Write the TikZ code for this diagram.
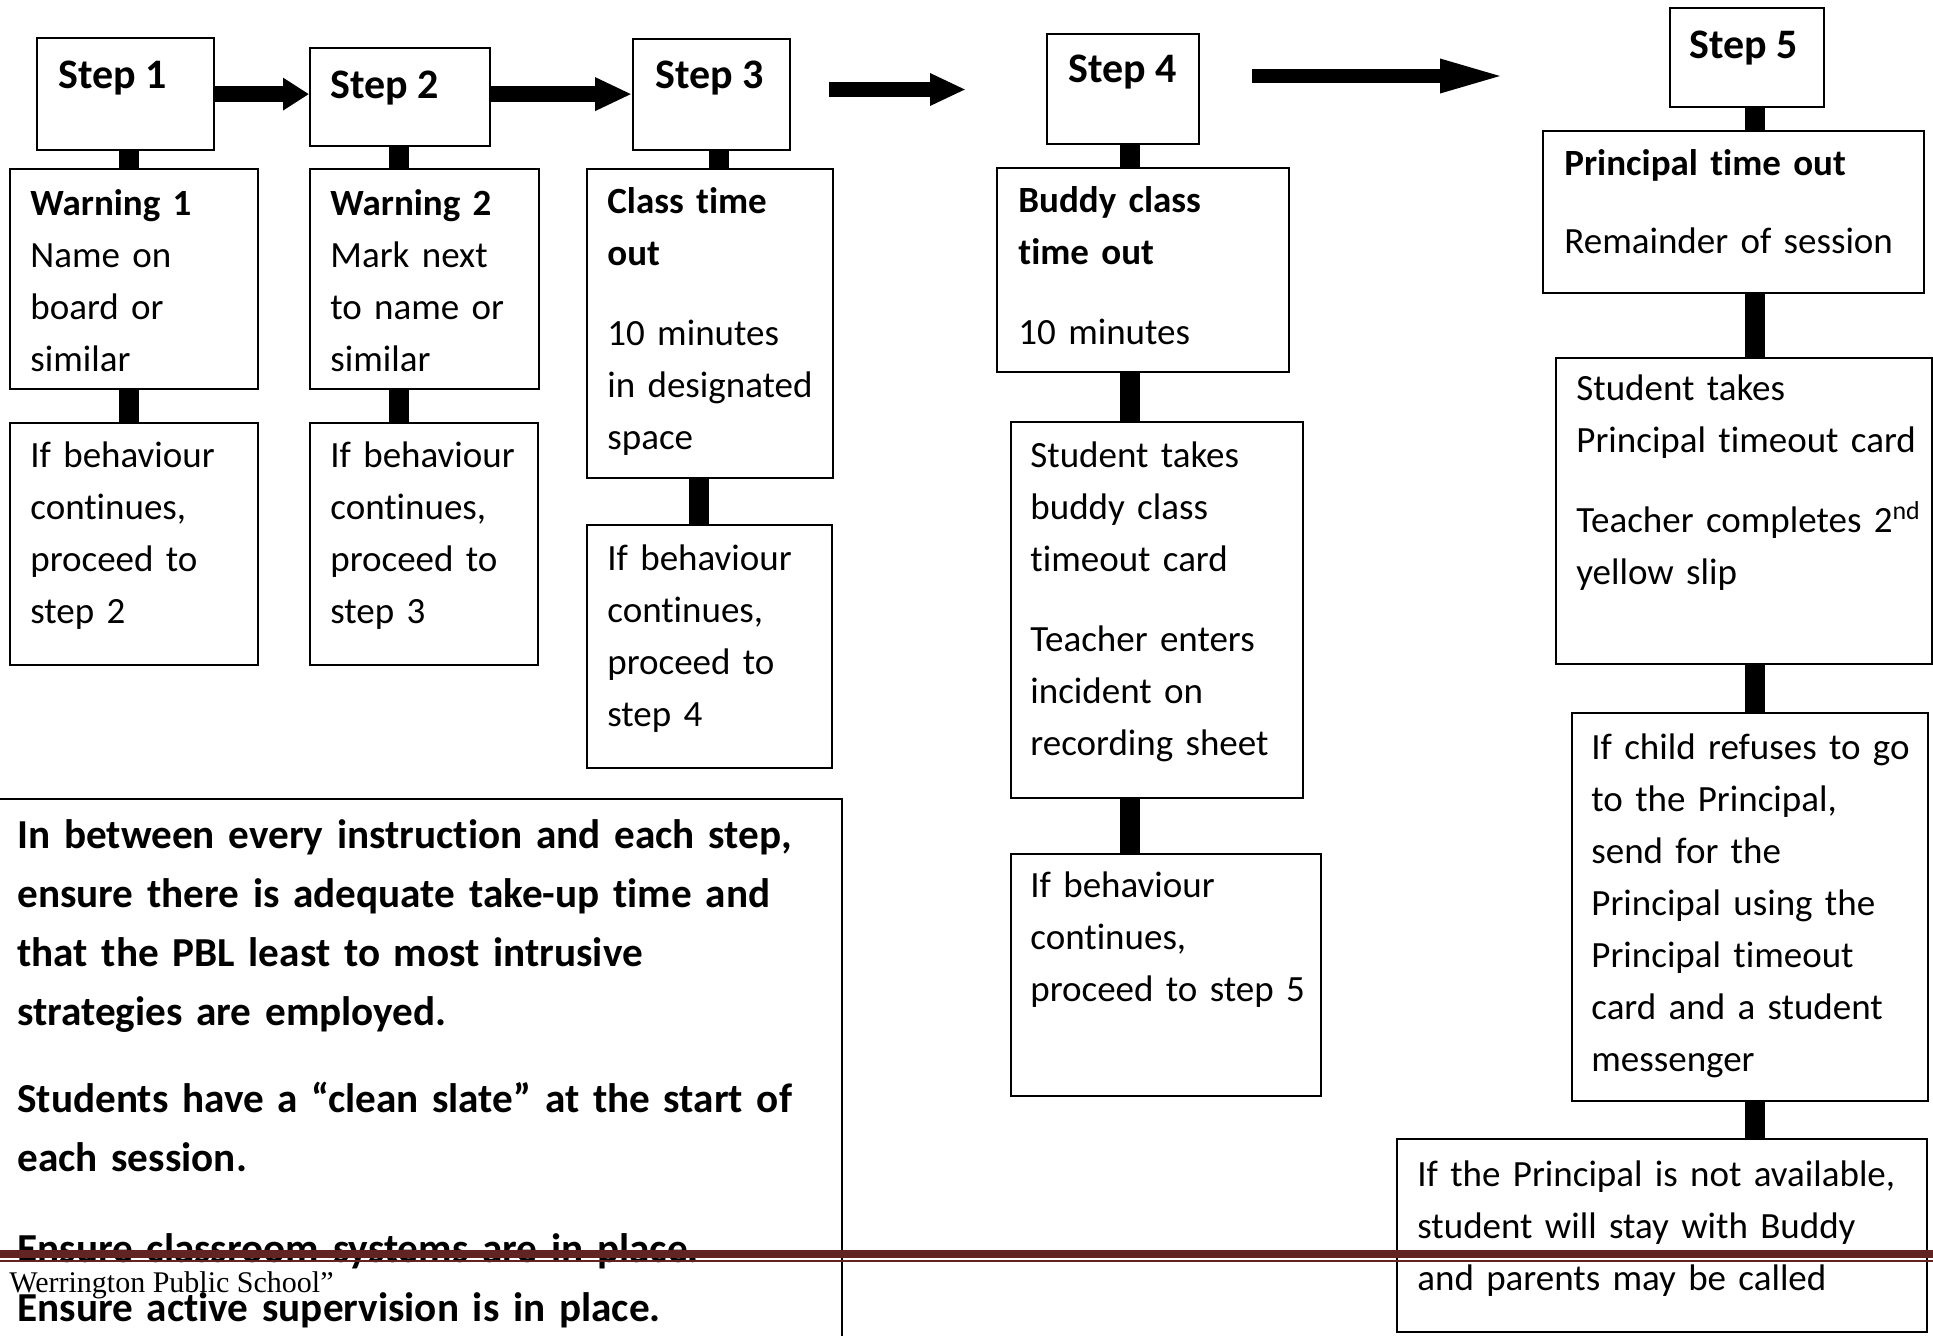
\documentclass[tikz,border=0pt]{standalone}
\usepackage{fontspec}
\setmainfont{Carlito}[Ligatures=NoCommon]
\newfontfamily\footserif{Liberation Serif}
\usetikzlibrary{arrows.meta}
\definecolor{footred}{HTML}{622423}
\begin{document}
\begin{tikzpicture}[x=0.5pt, y=-0.5pt,
  box/.style={draw, line width=1.1pt, inner sep=0pt, anchor=north west},
  bar/.style={line width=10pt},
  txt/.style={inner sep=0pt, anchor=base west, align=left, text width=280pt, font=\fontsize{18.5pt}{26pt}\selectfont},
  steptxt/.style={inner sep=0pt, anchor=base west, font=\fontsize{21pt}{26pt}\selectfont\bfseries},
  notetxt/.style={inner sep=0pt, anchor=base west, align=left, text width=440pt, font=\fontsize{20.6pt}{29.5pt}\selectfont\bfseries},
  blockarrow/.style={line width=8pt, -{Triangle[length=13pt, width=15.5pt]}}
]
\useasboundingbox (0,0) rectangle (1933,1335);

% step boxes
\node[box, minimum width=88.5pt, minimum height=56pt] (s1) at (36,37) {};
\node[box, minimum width=90pt, minimum height=49pt] (s2) at (309,47) {};
\node[box, minimum width=78.5pt, minimum height=55.5pt] (s3) at (632,38) {};
\node[box, minimum width=76pt, minimum height=55pt] (s4) at (1046,33) {};
\node[box, minimum width=77pt, minimum height=49.5pt] (s5) at (1669,7) {};

% second row
\node[box, minimum width=124pt, minimum height=110pt] (w1) at (9,168) {};
\node[box, minimum width=114.5pt, minimum height=110pt] (w2) at (309,168) {};
\node[box, minimum width=123pt, minimum height=154.5pt] (ct) at (586,168) {};
\node[box, minimum width=146pt, minimum height=102pt] (bt) at (996,167) {};
\node[box, minimum width=190.5pt, minimum height=81pt] (ptb) at (1542,130) {};

% third row
\node[box, minimum width=124pt, minimum height=121pt] (i1) at (9,422) {};
\node[box, minimum width=114pt, minimum height=121pt] (i2) at (309,422) {};
\node[box, minimum width=122.5pt, minimum height=121.5pt] (i3) at (586,524) {};
\node[box, minimum width=146pt, minimum height=188pt] (st4) at (1010,421) {};
\node[box, minimum width=188pt, minimum height=153pt] (st5) at (1555,357) {};

% lower boxes
\node[box, minimum width=155pt, minimum height=121pt] (if4) at (1010,853) {};
\node[box, minimum width=178pt, minimum height=194pt] (ic) at (1571,712) {};
\node[box, minimum width=265pt, minimum height=96.5pt] (ip) at (1396,1138) {};
\node[box, minimum width=425.5pt, minimum height=280pt] (note) at (-10,798) {};

% connector columns
\coordinate (c1) at (129,0);
\coordinate (c2) at (399,0);
\coordinate (c3a) at (719,0);
\coordinate (c3b) at (699,0);
\coordinate (c4) at (1130,0);
\coordinate (c5) at (1755,0);

\draw[bar] (s1.south -| c1) -- (w1.north -| c1);
\draw[bar] (w1.south -| c1) -- (i1.north -| c1);
\draw[bar] (s2.south -| c2) -- (w2.north -| c2);
\draw[bar] (w2.south -| c2) -- (i2.north -| c2);
\draw[bar] (s3.south -| c3a) -- (ct.north -| c3a);
\draw[bar] (ct.south -| c3b) -- (i3.north -| c3b);
\draw[bar] (s4.south -| c4) -- (bt.north -| c4);
\draw[bar] (bt.south -| c4) -- (st4.north -| c4);
\draw[bar] (st4.south -| c4) -- (if4.north -| c4);
\draw[bar] (s5.south -| c5) -- (ptb.north -| c5);
\draw[bar] (ptb.south -| c5) -- (st5.north -| c5);
\draw[bar] (st5.south -| c5) -- (ic.north -| c5);
\draw[bar] (ic.south -| c5) -- (ip.north -| c5);

% block arrows
\coordinate (a3s) at (829,89.5);
\coordinate (a3e) at (966,89.5);
\coordinate (a4s) at (1252,76);
\coordinate (a4e) at (1507,76);
\draw[blockarrow] (s1.east) -- (s1.east -| s2.west);
\draw[blockarrow, -{Triangle[length=18.5pt, width=15.5pt]}] (s1.east -| s2.east) -- (s1.east -| s3.west);
\draw[line width=7.5pt, -{Triangle[length=18pt, width=15pt]}] (a3s) -- (a3e);
\draw[line width=7pt, -{Triangle[length=33.5pt, width=15pt]}] (a4s) -- (a4e);

% step labels
\node[steptxt] (ts1) at (58,88) {Step 1};
\node[steptxt] (ts2) at (330,98) {Step 2};
\node[steptxt] (ts3) at (655,88) {Step 3};
\node[steptxt] (ts4) at (1068,82) {Step 4};
\node[steptxt] (ts5) at (1689,58) {Step 5};

% box texts
\node[txt] (tw1) at (30,215) {\textbf{Warning 1}\\Name on\\board or\\similar};
\node[txt] (tw2) at (330,215) {\textbf{Warning 2}\\Mark next\\to name or\\similar};
\node[txt] (ti1) at (30,467) {If behaviour\\continues,\\proceed to\\step 2};
\node[txt] (ti2) at (330,467) {If behaviour\\continues,\\proceed to\\step 3};
\node[txt] (tct) at (607,213) {\textbf{Class time}\\\textbf{out}\\[14pt]10 minutes\\in designated\\space};
\node[txt] (ti3) at (607,570) {If behaviour\\continues,\\proceed to\\step 4};
\node[txt] (tbt) at (1018,212) {\textbf{Buddy class}\\\textbf{time out}\\[14pt]10 minutes};
\node[txt] (tst4) at (1030,467) {Student takes\\buddy class\\timeout card\\[14pt]Teacher enters\\incident on\\recording sheet};
\node[txt] (tif4) at (1030,897) {If behaviour\\continues,\\proceed to step 5};
\node[txt] (tpt) at (1564,175) {\textbf{Principal time out}\\[13pt]Remainder of session};
\node[txt] (tst5) at (1576,400) {Student takes\\Principal timeout card\\[14pt]Teacher completes 2\textsuperscript{nd}\\yellow slip};
\node[txt] (tic) at (1591,759) {If child refuses to go\\to the Principal,\\send for the\\Principal using the\\Principal timeout\\card and a student\\messenger};
\node[txt] (tip) at (1417,1186) {If the Principal is not available,\\student will stay with Buddy\\and parents may be called};
\node[notetxt] (tnote) at (17,848) {In between every instruction and each step,\\ensure there is adequate take-up time and\\that the PBL least to most intrusive\\strategies are employed.\\[14pt]Students have a “clean slate” at the start of\\each session.\\[16pt]Ensure classroom systems are in place.\\Ensure active supervision is in place.};

% footer
\coordinate (fl1) at (0,1254);
\coordinate (fr1) at (1933,1254);
\coordinate (fl2) at (0,1261);
\coordinate (fr2) at (1933,1261);
\draw[footred, line width=4pt] (fl1) -- (fr1);
\draw[footred, line width=1pt] (fl2) -- (fr2);
\node[inner sep=0pt, anchor=base west, font=\footserif\fontsize{15pt}{18pt}\selectfont] (foot) at (9,1292) {Werrington Public School”};
\end{tikzpicture}
\end{document}
